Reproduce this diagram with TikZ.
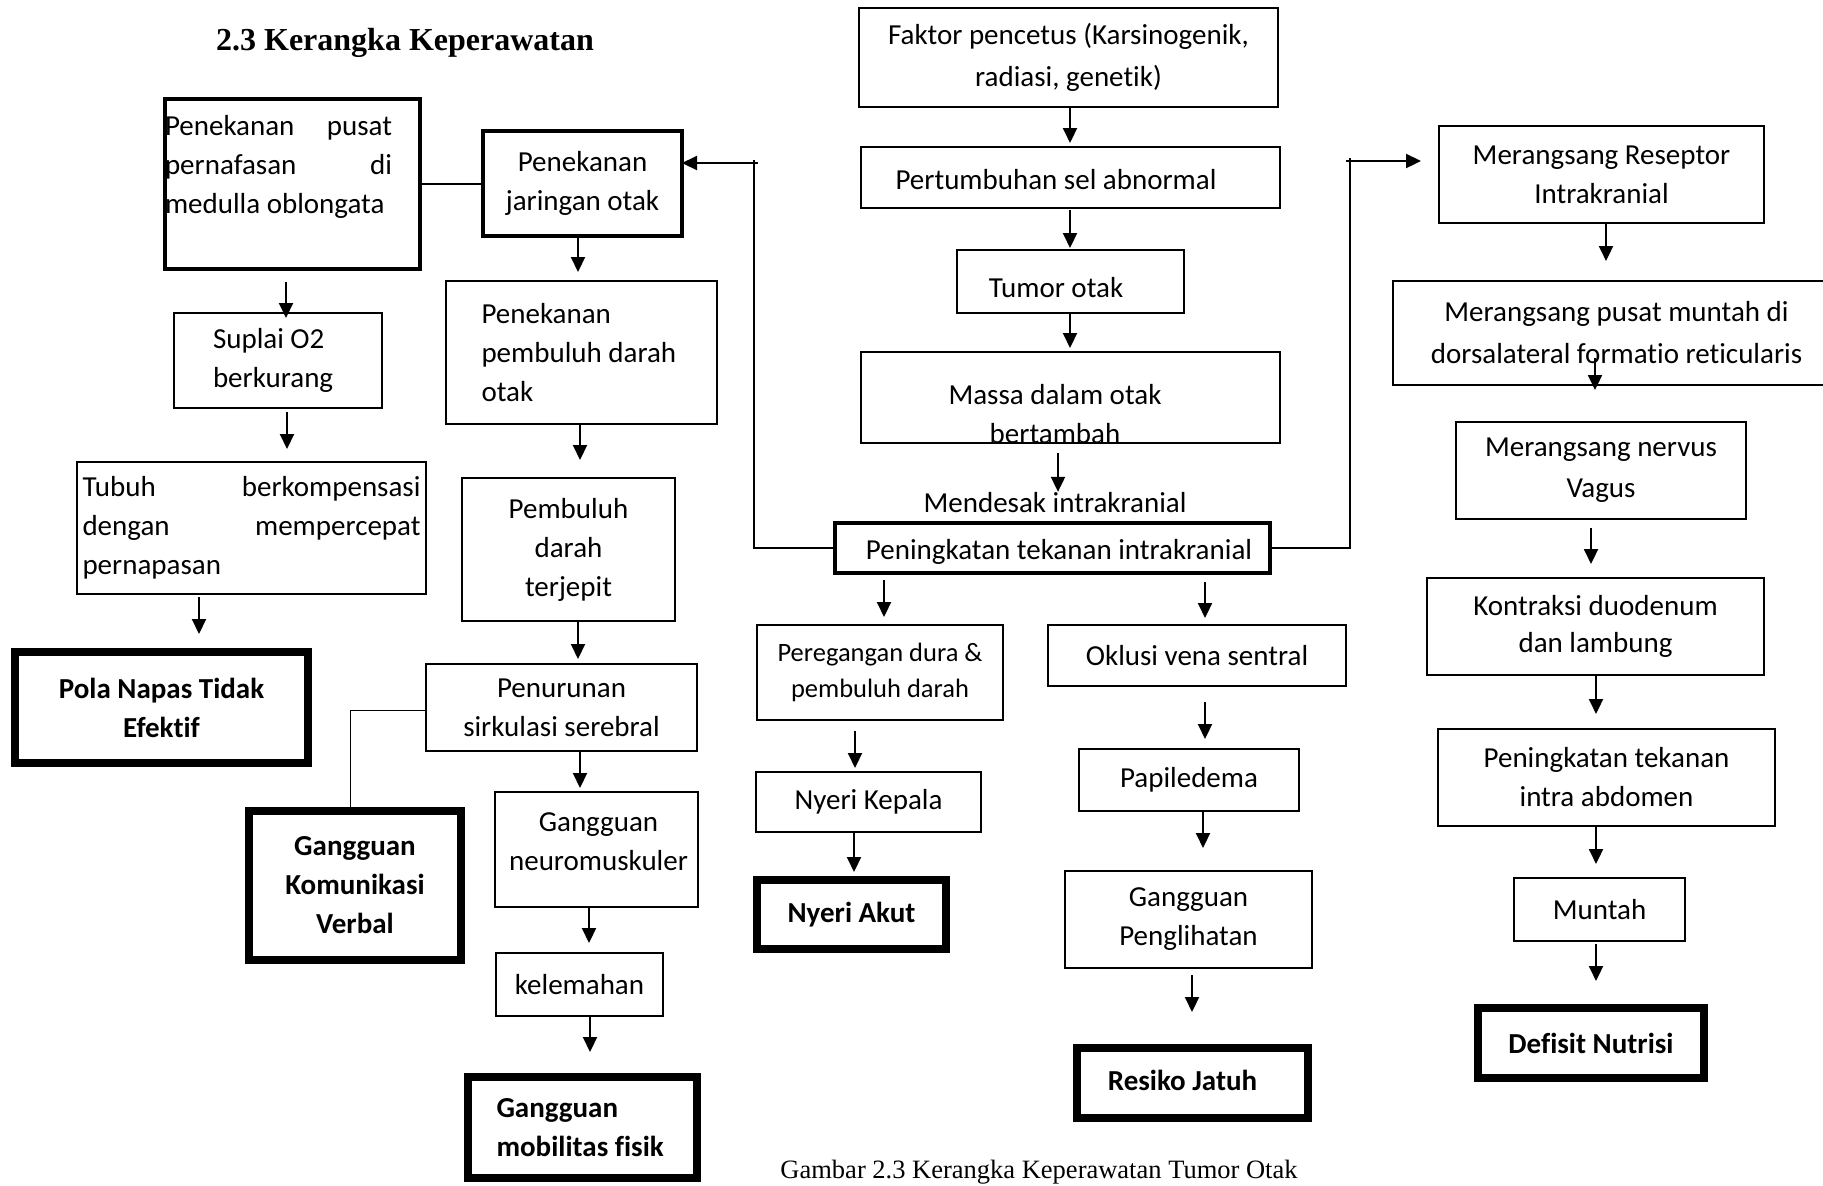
\documentclass[tikz,border=0pt]{standalone}
\usepackage{fontspec}
\setmainfont{Carlito}[Ligatures=CommonOff]
\newfontfamily\tnr{Liberation Serif}
\usetikzlibrary{arrows.meta}
\tikzset{
  nbox/.style={draw, line width=1.2pt, inner sep=0pt, outer sep=0pt, align=center, font=\fontsize{14.5}{19.5}\selectfont},
  finbox/.style={draw, line width=4pt, inner sep=0pt, outer sep=0pt, align=center, font=\bfseries\fontsize{14.5}{19.5}\selectfont},
  lbl/.style={inner sep=0pt, outer sep=0pt, align=center, font=\fontsize{14.5}{19.5}\selectfont},
  arr/.style={line width=1pt, -{Triangle[length=7.5pt,width=7pt]}},
  lnk/.style={line width=1.1pt},
  thinlnk/.style={line width=0.5pt}
}
\newcommand\mybox[7]{\node[#6, minimum width={(#4-#2)*0.5pt}, minimum height={(#5-#3)*0.5pt}] (#1) at ({(#2+#4)/2},{(#3+#5)/2}) {#7};}
\newcommand\myarr[4]{\draw[arr] ([shift={(#3)}]#1.south) -- ([shift={(#4)}]#2.north);}
\begin{document}
\begin{tikzpicture}[x=0.5pt, y=-0.5pt]
\useasboundingbox (0,0) rectangle (1823,1185);
\clip (0,0) rectangle (1823,1185);
\fill[white] (0,0) rectangle (1823,1185);

\node[font=\tnr\bfseries\fontsize{16}{19}\selectfont, inner sep=0pt] (title) at (405,43) {2.3 Kerangka Keperawatan};
\node[font=\tnr\fontsize{13.25}{16}\selectfont, inner sep=0pt] (cap) at (1039,1172) {Gambar 2.3 Kerangka Keperawatan Tumor Otak};

% left column
\mybox{n1}{165}{99}{420}{269}{nbox, line width=1.6pt, label={[name=n1t, lbl, text width=113.5pt, align=flush left, shift={(-14,-17)}]center:{Penekanan\hfill pusat\\pernafasan\hfill di\\medulla oblongata}}}{}
\mybox{n2}{174}{313}{382}{408}{nbox, text width=65pt, align=flush left}{Suplai O2\\berkurang}
\mybox{n3}{77}{462}{426}{594}{nbox, text width=169pt, align=flush left}{Tubuh\hfill berkompensasi\\dengan\hfill mempercepat\\pernapasan}
\mybox{n4}{15}{652}{308}{763}{finbox}{Pola Napas Tidak\\Efektif}

% second column
\mybox{n5}{483}{131}{682}{236}{nbox, line width=1.6pt}{Penekanan\\jaringan otak}
\mybox{n6}{446}{281}{717}{424}{nbox, text width=100pt, align=flush left}{Penekanan\\pembuluh darah\\otak}
\mybox{n7}{462}{478}{675}{621}{nbox}{Pembuluh\\darah\\terjepit}
\mybox{n8}{426}{664}{697}{751}{nbox}{Penurunan\\sirkulasi serebral}
\mybox{n9}{249}{811}{461}{960}{finbox}{Gangguan\\Komunikasi\\Verbal}
\mybox{n10}{495}{792}{698}{907}{nbox, label={[name=n10t, lbl, shift={(2,-7.5)}]center:{Gangguan\\neuromuskuler}}}{}
\mybox{n11}{496}{953}{663}{1016}{nbox}{kelemahan}
\mybox{n12}{468}{1077}{697}{1178}{finbox, text width=86pt, align=flush left}{Gangguan\\mobilitas fisik}

% centre column
\mybox{n13}{859}{8}{1278}{107}{nbox, font=\fontsize{14.5}{21}\selectfont}{Faktor pencetus (Karsinogenik,\\radiasi, genetik)}
\mybox{n14}{861}{147}{1280}{208}{nbox, label={[name=n14t, lbl, shift={(-14.5,2.5)}]center:Pertumbuhan sel abnormal}}{}
\mybox{n15}{957}{250}{1184}{313}{nbox, label={[name=n15t, lbl, shift={(-14.5,6.5)}]center:Tumor otak}}{}
\mybox{n16}{861}{352}{1280}{443}{nbox, label={[name=n16t, lbl, shift={(-15.5,17)}]center:{Massa dalam otak\\bertambah}}}{}
\node[lbl] (n17) at (1055,503) {Mendesak intrakranial};
\mybox{n18}{835}{523}{1270}{573}{nbox, line width=1.6pt, label={[name=n18t, lbl, shift={(6.5,4)}]center:Peningkatan tekanan intrakranial}}{}
\mybox{n19}{757}{625}{1003}{720}{nbox, font=\fontsize{13.25}{18}\selectfont}{Peregangan dura \&\\pembuluh darah}
\mybox{n20}{1048}{625}{1346}{686}{nbox}{Oklusi vena sentral}
\mybox{n21}{756}{772}{981}{832}{nbox}{Nyeri Kepala}
\mybox{n22}{757}{880}{946}{949}{finbox}{Nyeri Akut}
\mybox{n23}{1079}{749}{1299}{811}{nbox}{Papiledema}
\mybox{n24}{1065}{871}{1312}{968}{nbox}{Gangguan\\Penglihatan}
\mybox{n25}{1077}{1048}{1308}{1118}{finbox, label={[name=n25t, lbl, font=\bfseries\fontsize{14.5}{19.5}\selectfont, shift={(-10,-3)}]center:Resiko Jatuh}}{}

% right column
\mybox{n26}{1439}{126}{1764}{223}{nbox}{Merangsang Reseptor\\Intrakranial}
\mybox{n27}{1393}{281}{1840}{385}{nbox, font=\fontsize{14.5}{21}\selectfont}{Merangsang pusat muntah di\\dorsalateral formatio reticularis}
\mybox{n28}{1456}{422}{1746}{519}{nbox, font=\fontsize{14.5}{20.5}\selectfont}{Merangsang nervus\\Vagus}
\mybox{n29}{1427}{578}{1764}{675}{nbox, font=\fontsize{14.5}{18.5}\selectfont}{Kontraksi duodenum\\dan lambung}
\mybox{n30}{1438}{729}{1775}{826}{nbox, font=\fontsize{14.5}{19.5}\selectfont}{Peningkatan tekanan\\intra abdomen}
\mybox{n31}{1514}{878}{1685}{941}{nbox}{Muntah}
\mybox{n32}{1478}{1008}{1704}{1078}{finbox}{Defisit Nutrisi}

% arrows
\myarr{n1}{n2}{-6.5,13}{8,5}
\myarr{n2}{n3}{9,4}{35.5,-13}
\myarr{n3}{n4}{-52.5,3}{37.5,-18}
\myarr{n5}{n6}{-4.5,1}{-3.5,-9}
\myarr{n6}{n7}{-1.5,0}{11.5,-18}
\myarr{n7}{n8}{9.5,1}{16.5,-5}
\myarr{n8}{n10}{18.5,1}{-16.5,-4}
\myarr{n10}{n11}{-7.5,1}{9.5,-10}
\myarr{n11}{n12}{10.5,0}{7.5,-25}
\myarr{n13}{n14}{1.5,1}{-0.5,-4}
\myarr{n14}{n15}{-0.5,2}{-0.5,-2}
\myarr{n15}{n16}{-0.5,0}{-0.5,-4}
\myarr{n16}{n17}{-12.5,10}{3,-1}
\myarr{n18}{n19}{-168.5,7}{4,-8}
\myarr{n18}{n20}{152.5,9}{8,-7}
\myarr{n19}{n21}{-25,11}{-13.5,-4}
\myarr{n21}{n22}{-14.5,1}{2.5,-8}
\myarr{n20}{n23}{8,16}{16,-10}
\myarr{n23}{n24}{14,1}{14.5,-23}
\myarr{n24}{n25}{3.5,7}{-0.5,-36}
\myarr{n26}{n27}{4.5,1}{-10.5,-20}
\myarr{n27}{n28}{-21.5,-27}{-6,-32}
\myarr{n28}{n29}{-10,9}{-4.5,-14}
\myarr{n29}{n30}{0.5,1}{-10.5,-15}
\myarr{n30}{n31}{-10.5,0}{-3.5,-14}
\myarr{n31}{n32}{-3.5,3}{5,-27}

% plain links
\draw[lnk] (n1.east) -- (n1.east -| n5.west);
\draw[thinlnk] ([shift={(0,2.5)}]n8.west) -| ([shift={(-5,-4)}]n9.north);

% feedback loops from intracranial pressure
\draw[arr, line width=1.1pt] (n18.west) -| ([shift={(72,-20.5)}]n5.east) -- ([shift={(0,-20.5)}]n5.east);
\draw[lnk] ([shift={(72,-23.5)}]n5.east) -- ([shift={(72,-20.5)}]n5.east) -- ([shift={(76,-20.5)}]n5.east);
\draw[arr, line width=1.1pt] (n18.east) -| ([shift={(-89,-13.5)}]n26.west) -- ([shift={(-18,-13.5)}]n26.west);
\draw[lnk] ([shift={(-89,-16.5)}]n26.west) -- ([shift={(-89,-13.5)}]n26.west) -- ([shift={(-93,-13.5)}]n26.west);
\end{tikzpicture}
\end{document}
